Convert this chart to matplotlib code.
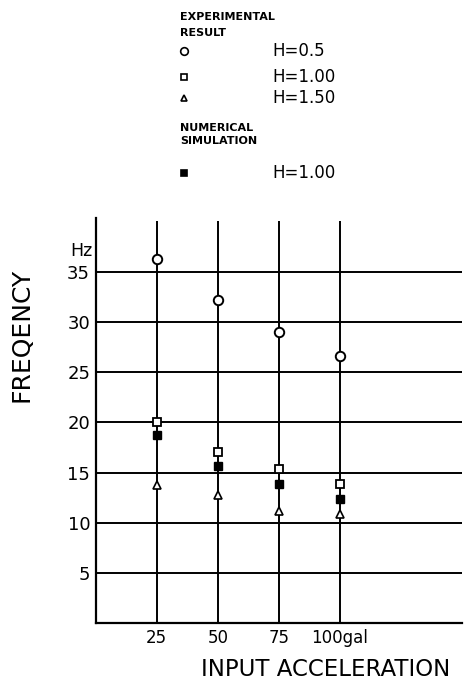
import matplotlib
matplotlib.use("Agg")
import matplotlib.pyplot as plt
from matplotlib.lines import Line2D

# input acceleration (gal)
accel = [25, 50, 75, 100]
# experimental result, natural frequency (Hz)
exp_h050 = [36.3, 32.2, 29.0, 26.6]
exp_h100 = [20.0, 17.0, 15.4, 13.9]
exp_h150 = [13.8, 12.8, 11.2, 10.85]
# numerical simulation
num_h100 = [18.7, 15.65, 13.9, 12.4]

yticks = [5, 10, 15, 20, 25, 30, 35]
ytick_labels = ["5", "10", "15", "20", "25", "30", "35"]
xtick_labels = ["25", "50", "75", "100gal"]

W, H = 468, 688
fig = plt.figure(figsize=(W / 100, H / 100), dpi=100)
ax = fig.add_axes([95.7 / W, 1 - 623 / H, (462 - 95.7) / W, (623 - 217.7) / H])

ax.set_xlim(0, 150)
ax.set_ylim(0, 40.4)

# grid
ax.hlines(yticks, 0, 150, color="black", lw=1.4)
ax.vlines(accel, 0, 40.1, color="black", lw=1.4)

for s in ["top", "right"]:
    ax.spines[s].set_visible(False)
for s in ["left", "bottom"]:
    ax.spines[s].set_linewidth(1.6)

ms = dict(color="black", linestyle="none", zorder=5)
ax.plot(accel, exp_h050, marker="o", mfc="white", mec="black", mew=1.4, markersize=6.8, **ms)
ax.plot(accel, exp_h100, marker="s", mfc="white", mec="black", mew=1.3, markersize=6, **ms)
ax.plot(accel, exp_h150, marker="^", mfc="white", mec="black", mew=1.2, markersize=6, **ms)
ax.plot(accel, num_h100, marker="s", mfc="black", mec="black", markersize=6, **ms)

ax.set_xticks(accel)
ax.set_xticklabels(xtick_labels, fontsize=12)
ax.set_yticks(yticks)
ax.set_yticklabels(ytick_labels, fontsize=13)
ax.tick_params(length=0, pad=4)
ax.text(-1.5, 37.1, "Hz", ha="right", va="center", fontsize=12.5)

fig.text(326 / W, 1 - 670 / H, "INPUT ACCELERATION", ha="center", va="center", fontsize=16.5)
fig.text(22 / W, 1 - 335 / H, "FREQENCY", ha="center", va="center", rotation=90, fontsize=18)

# legend block at top
def fy(y):
    return 1 - y / H

small = dict(fontsize=8, fontweight="bold", ha="left", va="center")
fig.text(180 / W, fy(17), "EXPERIMENTAL", **small)
fig.text(180 / W, fy(33), "RESULT", **small)
fig.text(180 / W, fy(128), "NUMERICAL", **small)
fig.text(180 / W, fy(141), "SIMULATION", **small)

leg = [
    (51, "o", "white", 5.5, "H=0.5"),
    (77, "s", "white", 5, "H=1.00"),
    (98, "^", "white", 5, "H=1.50"),
    (173, "s", "black", 5, "H=1.00"),
]
for y, m, fc, sz, lab in leg:
    fig.add_artist(Line2D([184 / W], [fy(y)], marker=m, mfc=fc, mec="black",
                          mew=1.2, markersize=sz, linestyle="none"))
    fig.text(272 / W, fy(y), lab, ha="left", va="center", fontsize=12)

fig.savefig("out.png", dpi=100)
